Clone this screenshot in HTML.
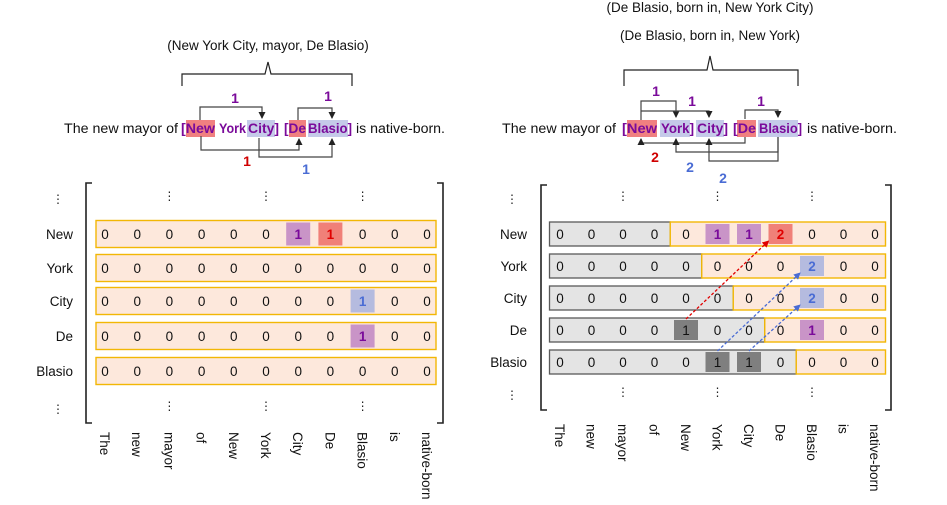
<!DOCTYPE html>
<html><head><meta charset="utf-8"><style>
html,body{margin:0;padding:0;background:#fff;}
svg{display:block;font-family:"Liberation Sans",sans-serif;}
</style></head><body>
<svg id="fig" width="947" height="505" viewBox="0 0 947 505">
<defs>
<marker id="arr" markerWidth="7" markerHeight="7" refX="6" refY="3.5" orient="auto" markerUnits="userSpaceOnUse"><path d="M0,0 L7,3.5 L0,7z" fill="#222"/></marker>
<marker id="arrR" markerWidth="7" markerHeight="7" refX="6" refY="3.5" orient="auto" markerUnits="userSpaceOnUse"><path d="M0,0 L7,3.5 L0,7z" fill="#e00000"/></marker>
<marker id="arrB" markerWidth="7" markerHeight="7" refX="6" refY="3.5" orient="auto" markerUnits="userSpaceOnUse"><path d="M0,0 L7,3.5 L0,7z" fill="#4a6cd4"/></marker>
</defs>

<text x="268" y="50" font-size="13.5" text-anchor="middle" fill="#111">(New York City, mayor, De Blasio)</text>
<path d="M182,86 V74 H265 L268,62 L271,74 H352 V86" fill="none" stroke="#222" stroke-width="1.2"/>

<text x="710" y="12" font-size="13.5" text-anchor="middle" fill="#111">(De Blasio, born in, New York City)</text>
<text x="710" y="40" font-size="13.5" text-anchor="middle" fill="#111">(De Blasio, born in, New York)</text>
<path d="M624,86 V70 H707 L710,56 L713,70 H798 V86" fill="none" stroke="#222" stroke-width="1.2"/>

<g id="sentences"></g>
<g id="left"></g>
<g id="right"></g>
</svg>
<script>
const NS="http://www.w3.org/2000/svg";
function mk(tag,attrs,parent,txt){const e=document.createElementNS(NS,tag);for(const k in attrs)e.setAttribute(k,attrs[k]);if(txt!==undefined)e.textContent=txt;parent.appendChild(e);return e;}

// ---- data ----
const tokens=["The","new","mayor","of","New","York","City","De","Blasio","is","native-born"];
const rowLabels=["New","York","City","De","Blasio"];
const leftValues=[[0,0,0,0,0,0,1,1,0,0,0],[0,0,0,0,0,0,0,0,0,0,0],[0,0,0,0,0,0,0,0,1,0,0],[0,0,0,0,0,0,0,0,1,0,0],[0,0,0,0,0,0,0,0,0,0,0]];
const leftMarks=[["","","","","","","p","r","","",""],["","","","","","","","","","",""],["","","","","","","","","b","",""],["","","","","","","","","p","",""],["","","","","","","","","","",""]];
const rightValues=[[0,0,0,0,0,1,1,2,0,0,0],[0,0,0,0,0,0,0,0,2,0,0],[0,0,0,0,0,0,0,0,2,0,0],[0,0,0,0,1,0,0,0,1,0,0],[0,0,0,0,0,1,1,0,0,0,0]];
const rightMarks=[["","","","","","p","p","r","","",""],["","","","","","","","","b","",""],["","","","","","","","","b","",""],["","","","","d","","","","p","",""],["","","","","","d","d","","","",""]];
const rightGreyCols=[4,5,6,7,8];
const rightLinks=[[3,4,0,7,"r"],[4,5,1,8,"b"],[4,6,2,8,"b"]];

const fill={p:"#c994c7",r:"#f08078",b:"#b5bbdf",d:"#7f7f7f"};
const txtc={p:"#7a0a9a",r:"#e00000",b:"#4a6cd4",d:"#111"};

function panel(g,o,vals,marks,grey,links,pfx){
  const colX=i=>o.x0+i*o.dx, rowY=j=>o.rowYs[j];
  let e=mk("path",{d:`M${o.bl+6},${o.bt} H${o.bl} V${o.bb} H${o.bl+6}`,fill:"none",stroke:"#222","stroke-width":1.6},g);
  
  
  e=mk("path",{d:`M${o.br-6},${o.bt} H${o.br} V${o.bb} H${o.br-6}`,fill:"none",stroke:"#222","stroke-width":1.6},g);
  
  
  [o.dotTop,o.dotBot].forEach((y,k)=>{
    o.dotCols.forEach(c=>{const t=mk("text",{x:colX(c),y:y,"font-size":12,"text-anchor":"middle",fill:"#222"},g,"⋮");
      
      });
    const t=mk("text",{x:o.labX-15,y:y+3,"font-size":12,"text-anchor":"middle",fill:"#222"},g,"⋮");
    
    
  });
  const hw=o.dx/2;
  vals.forEach((row,j)=>{
    const y=rowY(j), top=y-o.h/2;
    const gc=grey?grey[j]:0;
    const left=colX(0)-o.pad, right=colX(10)+o.pad, split=colX(gc)-hw;
    if(gc>0){
      const r=mk("rect",{x:left,y:top,width:split-left,height:o.h,fill:"#e4e4e4",stroke:"#595959","stroke-width":1.3},g);
      
      
    }
    const sx=gc>0?split:left;
    const r=mk("rect",{x:sx,y:top,width:right-sx,height:o.h,fill:"#fde8dc",stroke:"#f2b705","stroke-width":1.4},g);
    
    
    const lab=mk("text",{x:o.labX,y:y+5,"font-size":13.5,"text-anchor":"end",fill:"#111"},g,rowLabels[j]);
    
    
    row.forEach((v,i)=>{
      const m=marks[j][i];
      if(m){const c=mk("rect",{x:colX(i)-12,y:top+2,width:24,height:o.h-4,fill:fill[m]},g);
        
        }
      const t=mk("text",{x:colX(i),y:y+5,"font-size":13.5,"text-anchor":"middle",fill:m?txtc[m]:"#111","font-weight":(m&&m!="d")?"bold":"normal"},g,String(v));
      
      
    });
  });
  (links||[]).forEach(([r1,c1,r2,c2,col])=>{
    const x1=colX(c1), y1=rowY(r1)-o.h/2+1, x2=colX(c2)-12, y2=rowY(r2)+o.h/2-5;
    const l=mk("line",{x1,y1,x2,y2,stroke:col=="r"?"#e00000":"#4a6cd4","stroke-width":1.3,"stroke-dasharray":"3,2","marker-end":col=="r"?"url(#arrR)":"url(#arrB)"},g);
    
    
  });
  tokens.forEach((tk,i)=>{
    const t=mk("text",{x:0,y:0,"font-size":13.5,fill:"#111",transform:`translate(${colX(i)-5},${o.tokY}) rotate(90)`},g,tk);
    
    
  });
}

panel(document.getElementById("left"),{x0:105,dx:32.2,pad:9,rowYs:[234,268,301,336,371],h:27,bl:86,br:443,bt:183,bb:423,dotTop:200,dotBot:410,dotCols:[2,5,8],labX:73,tokY:432},leftValues,leftMarks,null,null,"left");
panel(document.getElementById("right"),{x0:560,dx:31.5,pad:10.5,rowYs:[234,266,298,330,362],h:24,bl:541,br:891,bt:185,bb:410,dotTop:200,dotBot:396,dotCols:[2,5,8],labX:527,tokY:424},rightValues,rightMarks,rightGreyCols,rightLinks,"right");

// ---- sentences ----
const sg=document.getElementById("sentences");
function sentence(parts,y){
  parts.forEach(p=>{
    if(p.bg){const r=mk("rect",{x:p.bx,y:y-13,width:p.bw,height:17,fill:p.bg},sg);
      
      }
    const t=mk("text",{x:p.x,y:y,"font-size":13.5,fill:p.c||"#111","font-weight":p.c?"bold":"normal",textLength:p.w,lengthAdjust:"spacingAndGlyphs"},sg,p.t);
    
    
  });
}
const P="#7a0a9a",RB="#f08080",LB="#c5cae9";
sentence([
 {t:"The new mayor of",x:64,w:114},
 {t:"[New",x:181,w:34,c:P,bg:RB,bx:186,bw:29},
 {t:"York",x:219,w:27,c:P},
 {t:"City]",x:248,w:31,c:P,bg:LB,bx:247,bw:28},
 {t:"[De",x:284,w:22,c:P,bg:RB,bx:289,bw:17},
 {t:"Blasio]",x:308,w:44,c:P,bg:LB,bx:308,bw:40},
 {t:"is native-born.",x:356,w:89}
],133);
sentence([
 {t:"The new mayor of",x:502,w:114},
 {t:"[New",x:622,w:35,c:P,bg:RB,bx:627,bw:30},
 {t:"York]",x:661,w:33,c:P,bg:LB,bx:660,bw:30},
 {t:"City]",x:697,w:31,c:P,bg:LB,bx:696,bw:28},
 {t:"[De",x:733,w:23,c:P,bg:RB,bx:737,bw:19},
 {t:"Blasio]",x:759,w:43,c:P,bg:LB,bx:758,bw:40},
 {t:"is native-born.",x:807,w:90}
],133);

const arrows=[
 ["M200,120 V107 H262 V118"],["M298,120 V108 H332 V118"],
 ["M201,136 V150 H299 V139"],["M259,138 V157 H332 V139"],
 ["M641,120 V101 H676 V117"],["M641,111 H709 V117"],["M745,119 V110 H778 V117"],
 ["M745,137 V143 H641 V139"],["M778,137 V152 H676 V139"],["M778,137 V161 H709 V139"]
];
arrows.forEach(a=>{const p=mk("path",{d:a[0],fill:"none",stroke:"#444","stroke-width":1.2,"marker-end":"url(#arr)"},sg);
  
  });
const nums=[[235,103,"1",P],[328,101,"1",P],[247,166,"1","#d00000"],[306,174,"1","#4a6cd4"],
 [656,96,"1",P],[692,106,"1",P],[761,106,"1",P],[655,162,"2","#d00000"],[690,172,"2","#4a6cd4"],[723,183,"2","#4a6cd4"]];
nums.forEach(n=>{const t=mk("text",{x:n[0],y:n[1],"font-size":14,"font-weight":"bold","text-anchor":"middle",fill:n[3]},sg,n[2]);
  
  });
</script>
</body></html>
